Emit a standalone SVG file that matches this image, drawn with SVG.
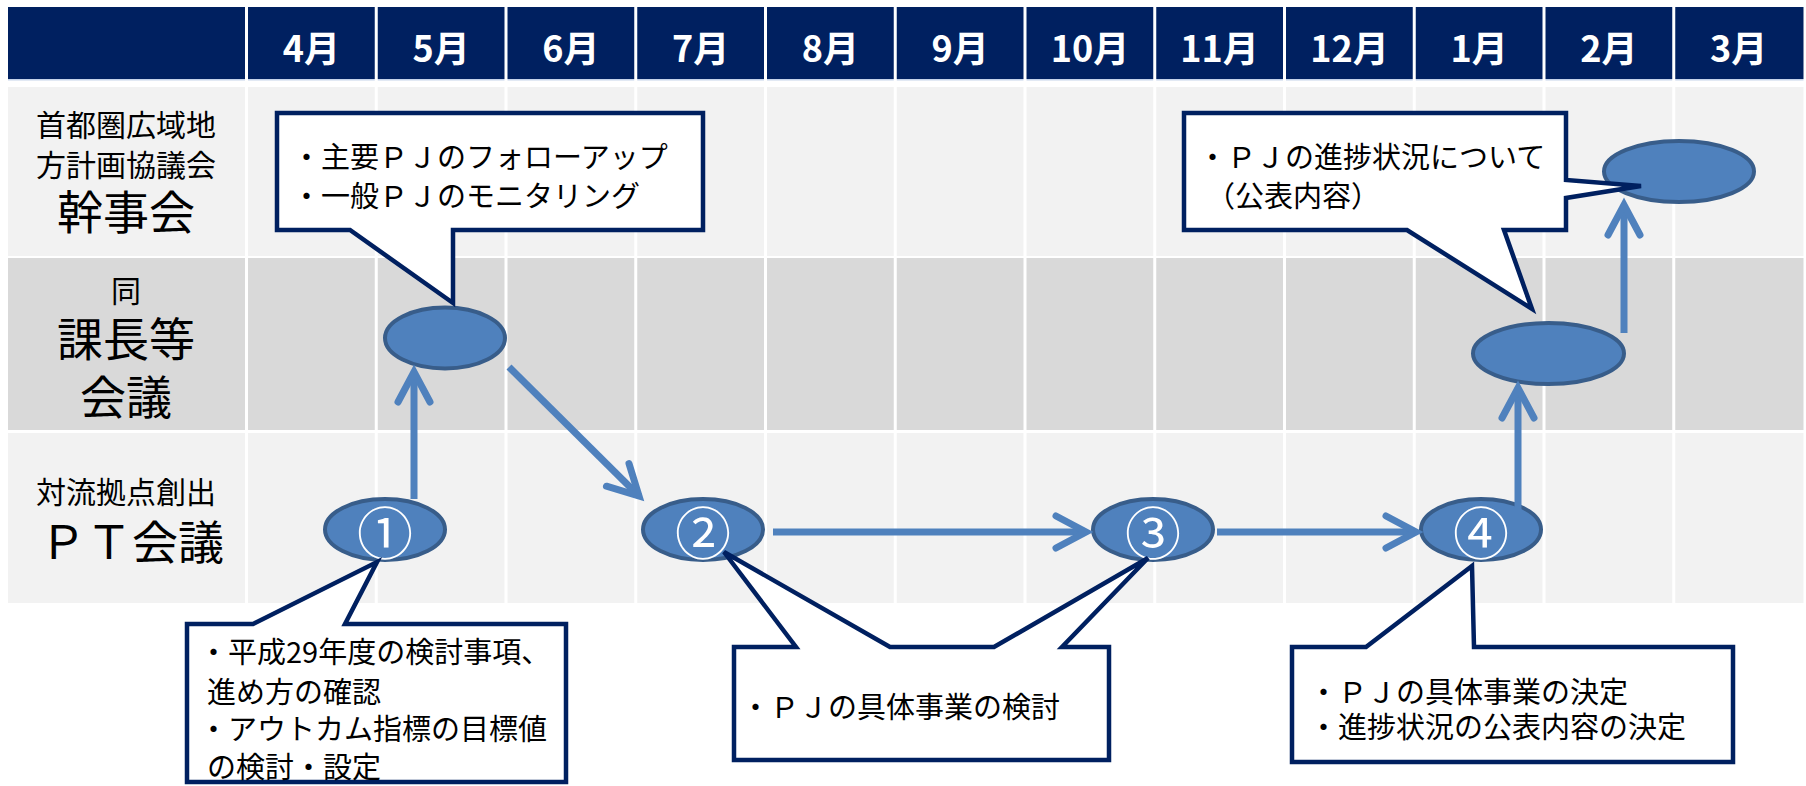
<svg xmlns="http://www.w3.org/2000/svg" width="1806" height="786" viewBox="0 0 1806 786">
<style>
.hd{font-family:"Noto Sans CJK JP","Noto Sans",sans-serif;font-weight:700;font-size:36px;fill:#fff;text-anchor:middle;dominant-baseline:central}
.lb{font-family:"Noto Sans CJK JP",sans-serif;fill:#000;text-anchor:middle;dominant-baseline:central}
.s{font-size:30px}
.l{font-size:46px}
.co{fill:#fff;stroke:#002060;stroke-width:4.5;stroke-linejoin:miter}
.ct{font-family:"Noto Sans CJK JP",sans-serif;font-size:29px;fill:#000;dominant-baseline:central}
.nd{fill:#4f81bd;stroke:#385d8a;stroke-width:4}
.num{font-family:"Noto Sans CJK JP",sans-serif;font-size:56px;fill:#fff;text-anchor:middle;dominant-baseline:central}
.ar{fill:none;stroke:#4f81bd;stroke-width:7}
.vl{fill:#fff}
</style>
<defs>
<marker id="ah" markerUnits="userSpaceOnUse" orient="auto" markerWidth="60" markerHeight="60" viewBox="-40 -30 60 60" refX="0" refY="0" overflow="visible">
<path d="M-30,-16 L0,0 L-30,16" fill="none" stroke="#4f81bd" stroke-width="7" stroke-linecap="round" stroke-linejoin="miter"/>
</marker>
</defs>
<rect width="1806" height="786" fill="#fff"/>
<g id="grid">
<rect x="8" y="7" width="1796" height="72" fill="#002060"/>
<rect x="8" y="79" width="1796" height="1.5" fill="#c5d3ea"/>
<rect x="8" y="87" width="1796" height="169" fill="#f2f2f2"/>
<rect x="8" y="258" width="1796" height="172" fill="#d9d9d9"/>
<rect x="8" y="433" width="1796" height="170" fill="#f2f2f2"/>
<g class="vl">
<rect x="245" y="7" width="3" height="596"/>
<rect x="374.75" y="7" width="3" height="596"/>
<rect x="504.5" y="7" width="3" height="596"/>
<rect x="634.25" y="7" width="3" height="596"/>
<rect x="764" y="7" width="3" height="596"/>
<rect x="893.75" y="7" width="3" height="596"/>
<rect x="1023.5" y="7" width="3" height="596"/>
<rect x="1153.25" y="7" width="3" height="596"/>
<rect x="1283" y="7" width="3" height="596"/>
<rect x="1412.75" y="7" width="3" height="596"/>
<rect x="1542.5" y="7" width="3" height="596"/>
<rect x="1672.25" y="7" width="3" height="596"/>
<rect x="1803.5" y="0" width="3" height="786"/>
</g>
<text class="hd" x="311.4" y="46">4月</text>
<text class="hd" x="441.1" y="46">5月</text>
<text class="hd" x="570.9" y="46">6月</text>
<text class="hd" x="700.6" y="46">7月</text>
<text class="hd" x="830.4" y="46">8月</text>
<text class="hd" x="960.1" y="46">9月</text>
<text class="hd" x="1089.9" y="46">10月</text>
<text class="hd" x="1219.6" y="46">11月</text>
<text class="hd" x="1349.4" y="46">12月</text>
<text class="hd" x="1479.1" y="46">1月</text>
<text class="hd" x="1608.9" y="46">2月</text>
<text class="hd" x="1738.6" y="46">3月</text>
<text class="lb s" x="126" y="122.5">首都圏広域地</text>
<text class="lb s" x="126" y="162.5">方計画協議会</text>
<text class="lb l" x="126" y="209">幹事会</text>
<text class="lb s" x="126" y="288.5">同</text>
<text class="lb l" x="126" y="336">課長等</text>
<text class="lb l" x="126" y="394">会議</text>
<text class="lb s" x="126" y="490">対流拠点創出</text>
<text class="lb l" x="132" y="539">ＰＴ会議</text>
</g>
<g id="node-kacho1"><ellipse class="nd" cx="445" cy="338" rx="60" ry="30.5"/></g>
<g id="node-kacho2"><ellipse class="nd" cx="1548.5" cy="353.5" rx="75.5" ry="30.5"/></g>
<g id="node-kanji"><ellipse class="nd" cx="1679" cy="171.5" rx="75" ry="30.5"/></g>
<g id="node-1"><ellipse class="nd" cx="385" cy="529.5" rx="60" ry="30.5"/><text class="num" x="385" y="529.5">①</text></g>
<g id="node-2"><ellipse class="nd" cx="703" cy="529.5" rx="60" ry="30.5"/><text class="num" x="703" y="529.5">②</text></g>
<g id="node-3"><ellipse class="nd" cx="1153" cy="529.5" rx="60" ry="30.5"/><text class="num" x="1153" y="529.5">③</text></g>
<g id="node-4"><ellipse class="nd" cx="1481" cy="529.5" rx="60" ry="30.5"/><text class="num" x="1481" y="529.5">④</text></g>
<g id="connectors">
<path class="ar" d="M414,499 L414,372" marker-end="url(#ah)"/>
<path class="ar" d="M509,367 L639,496" marker-end="url(#ah)"/>
<path class="ar" d="M773,532 L1086,532" marker-end="url(#ah)"/>
<path class="ar" d="M1217,532 L1416,532" marker-end="url(#ah)"/>
<path class="ar" d="M1518,510 L1518,388" marker-end="url(#ah)"/>
<path class="ar" d="M1624,333 L1624,205" marker-end="url(#ah)"/>
</g>
<g id="callout-top-left">
<path class="co" d="M277,113 L703,113 L703,230 L453,230 L453,303 L350,230 L277,230 Z"/>
<text class="ct" x="292" y="155">・主要ＰＪのフォローアップ</text>
<text class="ct" x="292" y="193.5">・一般ＰＪのモニタリング</text>
</g>
<g id="callout-top-right">
<path class="co" d="M1184,113 L1566,113 L1566,180 L1641,186 L1566,198 L1566,230 L1504,230 L1532,309 L1407,230 L1184,230 Z"/>
<text class="ct" x="1198" y="155">・ＰＪの進捗状況について</text>
<text class="ct" x="1206" y="193.5">（公表内容）</text>
</g>
<g id="callout-bottom-left">
<path class="co" d="M187,624 L253,624 L377,562 L345,624 L566,624 L566,782 L187,782 Z"/>
<text class="ct" x="199" y="650">・平成29年度の検討事項、</text>
<text class="ct" x="207" y="689.5">進め方の確認</text>
<text class="ct" x="199" y="726.5">・アウトカム指標の目標値</text>
<text class="ct" x="207" y="765">の検討・設定</text>
</g>
<g id="callout-bottom-middle">
<path class="co" d="M734,647 L796,647 L724,552 L890,647 L994,647 L1148,558 L1062,647 L1109,647 L1109,760 L734,760 Z"/>
<text class="ct" x="741" y="705">・ＰＪの具体事業の検討</text>
</g>
<g id="callout-bottom-right">
<path class="co" d="M1292,647 L1366,647 L1472,566 L1474,647 L1733,647 L1733,762 L1292,762 Z"/>
<text class="ct" x="1309" y="689.5">・ＰＪの具体事業の決定</text>
<text class="ct" x="1309" y="725">・進捗状況の公表内容の決定</text>
</g>
</svg>
